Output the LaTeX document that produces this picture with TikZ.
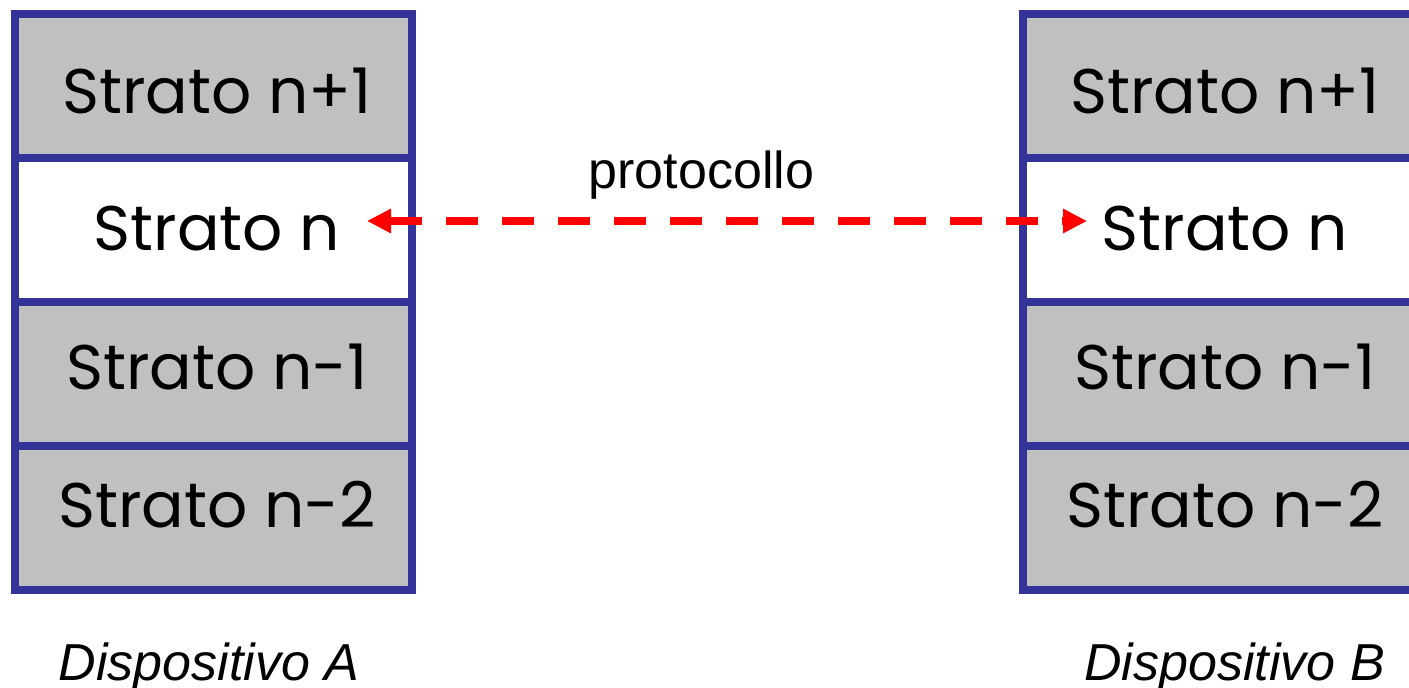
\documentclass[tikz,border=0pt]{standalone}
\usepackage{fontspec}
\setmainfont{Liberation Sans}
\newfontfamily\stratofont{Poppins}
\usepackage{tikz}
\usetikzlibrary{arrows.meta}

\definecolor{stackblue}{RGB}{51,51,153}
\definecolor{layergrey}{RGB}{192,192,192}
\definecolor{protored}{RGB}{255,0,0}

\tikzset{
  layer/.style={draw=stackblue, line width=8pt, minimum width=397pt, minimum height=144pt, inner sep=0pt, outer sep=0pt},
  strato/.style={anchor=base, inner sep=0pt, font=\stratofont\fontsize{63}{63}\selectfont},
  caption/.style={anchor=base, inner sep=0pt, font=\fontsize{52}{52}\selectfont},
  proto/.style={protored, line width=8pt, dash pattern=on 32pt off 24pt,
    {Triangle[length=24pt,width=23pt]}-{Triangle[length=24pt,width=23pt]}}
}

\begin{document}
\begin{tikzpicture}[x=1pt,y=-1pt] % 1 unit = 1 pixel, y downwards
\useasboundingbox (0,0) rectangle (1409,688);
\foreach \s/\x/\tx in {A/213.5/217, B/1221.5/1225} {
\foreach \i/\col/\y/\txt/\b in {1/layergrey/86/Strato n+1/113, 2/white/230/Strato n/250, 3/layergrey/374/Strato n-1/389, 4/layergrey/518/Strato n-2/527} {
\node[layer, fill=\col] (\s\i) at (\x,\y) {};
\node[strato] (t\s\i) at (\tx,\b) {\txt};
}
}
\draw[proto] ([shift={(-45,-9)}]A2.east) -- ([shift={(64,-9)}]B2.west);
\node[caption] (proto) at (701.5,188) {protocollo};
\node[caption] (devA) at (209,680) {\itshape Dispositivo A};
\node[caption] (devB) at (1234.5,680) {\itshape Dispositivo B};
\end{tikzpicture}
\end{document}
